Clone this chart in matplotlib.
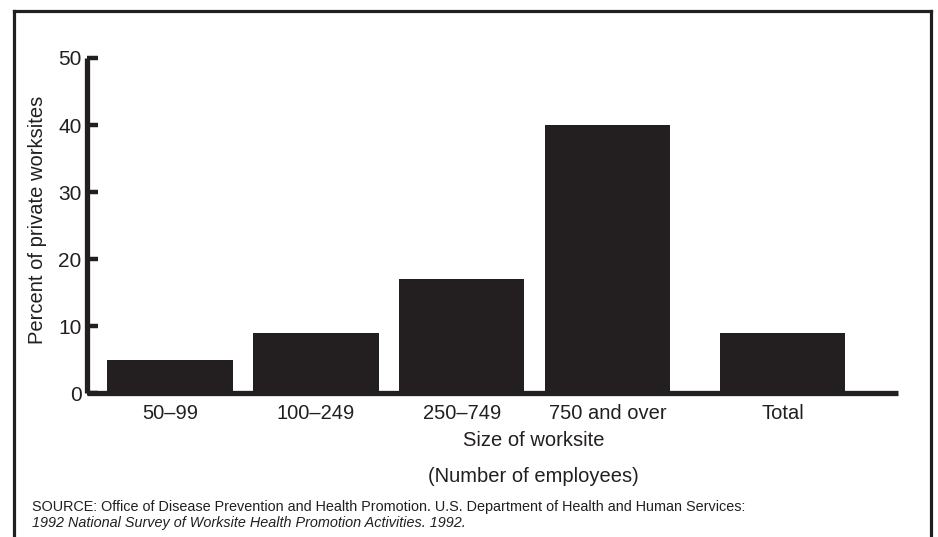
import matplotlib
matplotlib.use("Agg")
import matplotlib.pyplot as plt
import numpy as np
from matplotlib.lines import Line2D

# data
categories = ["50\u201299", "100\u2012249", "250\u2012749", "750 and over", "Total"]
percents = [5, 9, 17, 40, 9]
y_ticks = [0, 10, 20, 30, 40, 50]

ink = "#231f20"
plt.rcParams["font.family"] = ["Liberation Sans", "DejaVu Sans"]

fig = plt.figure(figsize=(9.38, 5.37), dpi=100)
ax = fig.add_axes([0.0928, 0.268, 0.957 - 0.0928, 0.892 - 0.268])

# "Total" sits a bit further away from the size groups
pos = np.append(np.arange(len(categories) - 1), len(categories) - 1 + 0.2)
ax.bar(pos, percents, width=0.86, color=ink, edgecolor="none")

ax.set_xlim(-0.57, 4.99)
ax.set_ylim(0, 50)
ax.set_yticks(y_ticks)
ax.set_xticks(pos)
ax.set_xticklabels(categories)

for s in ["top", "right"]:
    ax.spines[s].set_visible(False)
for s in ["left", "bottom"]:
    ax.spines[s].set_color(ink)
    ax.spines[s].set_linewidth(3.8)
    ax.spines[s].set_capstyle("butt")

ax.tick_params(axis="y", direction="in", length=8, width=3.2, color=ink,
               labelsize=15, pad=4, labelcolor=ink)
ax.tick_params(axis="x", length=0, labelsize=14.5, pad=8, labelcolor=ink)

fig.text(0.0405, 0.59, "Percent of private worksites", rotation=90,
         ha="center", va="center", fontsize=14.5, color=ink)
fig.text(0.569, 1 - 440 / 537, "Size of worksite", ha="center", va="center",
         fontsize=14.5, color=ink)
fig.text(0.569, 1 - 477 / 537, "(Number of employees)", ha="center", va="center",
         fontsize=14.5, color=ink)

fig.text(0.034, 1 - 507.5 / 537,
         "SOURCE: Office of Disease Prevention and Health Promotion. "
         "U.S. Department of Health and Human Services:",
         ha="left", va="center", fontsize=10.4, color=ink)
fig.text(0.034, 1 - 522.5 / 537,
         "1992 National Survey of Worksite Health Promotion Activities. 1992.",
         ha="left", va="center", fontsize=10.4, color=ink, style="italic")

# open-bottomed frame around the figure
fx0, fx1, fy1 = 13.5 / 938, 930.5 / 938, 1 - 10.5 / 537
for xs, ys in [([fx0, fx0], [0, fy1]), ([fx0, fx1], [fy1, fy1]), ([fx1, fx1], [fy1, 0])]:
    fig.add_artist(Line2D(xs, ys, color=ink, linewidth=2.3,
                          transform=fig.transFigure, solid_capstyle="projecting"))

fig.savefig("out.png", dpi=100, facecolor="white")
